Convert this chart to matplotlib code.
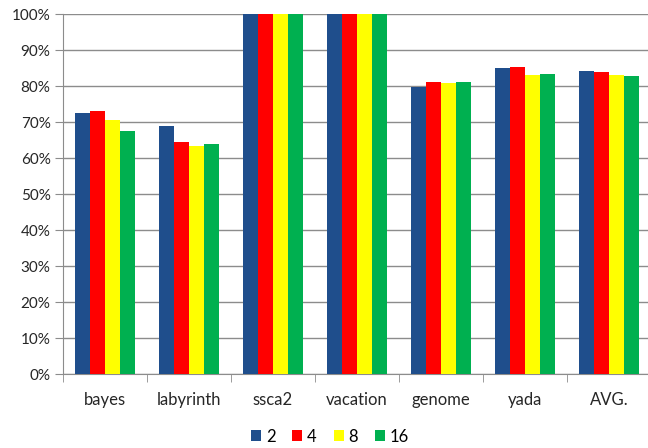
import numpy as np
import matplotlib
matplotlib.use('Agg')
import matplotlib.pyplot as plt
from matplotlib.ticker import FixedLocator

categories = ["bayes", "labyrinth", "ssca2", "vacation", "genome", "yada", "AVG."]
series_names = ["2", "4", "8", "16"]
vals_2 = [72.5, 68.9, 100, 100, 79.6, 84.9, 84.3]
vals_4 = [73.0, 64.4, 100, 100, 81.2, 85.4, 84.0]
vals_8 = [70.5, 63.3, 100, 100, 80.9, 83.1, 83.1]
vals_16 = [67.5, 63.9, 100, 100, 81.2, 83.3, 82.8]
colors = ["#1F4E8C", "#FF0000", "#FFFF00", "#00B050"]

plt.rcParams['font.family'] = ['Lato', 'DejaVu Sans']

fig = plt.figure(figsize=(6.48, 4.48), dpi=100)
ax = fig.add_axes([63 / 648, 1 - 374 / 448, 588 / 648, 360 / 448])

x = np.arange(len(categories))
w = 0.18
for i, (name, vals) in enumerate(zip(series_names, [vals_2, vals_4, vals_8, vals_16])):
    ax.bar(x + (i - 1.5) * w, vals, width=w, color=colors[i], label=name, zorder=3)

ax.set_ylim(0, 100)
ax.set_xlim(-0.5, len(categories) - 0.5)
ax.set_yticks(np.arange(0, 101, 10))
ax.set_yticklabels([f"{v}%" for v in range(0, 101, 10)], fontsize=11, color="#262626")
ax.yaxis.grid(True, color="#8c8c8c", linewidth=1, zorder=0)

ax.set_xticks(x)
ax.set_xticklabels(categories, fontsize=12, color="#262626")
ax.tick_params(axis='x', which='major', length=0, pad=13)
ax.xaxis.set_minor_locator(FixedLocator(np.arange(-0.5, len(categories), 1.0)))
ax.tick_params(axis='x', which='minor', length=6, color="#8c8c8c", direction='out')
ax.tick_params(axis='y', length=6, color="#8c8c8c", direction='out', pad=3)

for s in ['top', 'right']:
    ax.spines[s].set_visible(False)
for s in ['left', 'bottom']:
    ax.spines[s].set_color("#8c8c8c")

ax.legend(loc='upper center', bbox_to_anchor=((330 - 63) / 588, -0.11), ncol=4,
          frameon=False, fontsize=12, handlelength=0.6, handleheight=0.6,
          handletextpad=0.3, columnspacing=1.0)

fig.savefig("out.png", dpi=100, facecolor='w')
